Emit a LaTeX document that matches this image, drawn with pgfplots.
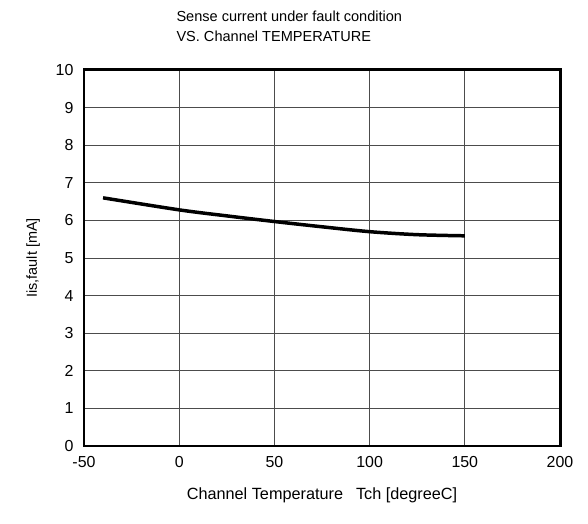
\documentclass[border=0pt]{standalone}
\usepackage{pgfplots}
\pgfplotsset{compat=1.18}
\usepackage{fontspec}
\setmainfont{Liberation Sans}
\begin{document}
\begin{tikzpicture}[x=1bp,y=1bp]
\useasboundingbox (-84,-78) rectangle (504,446);
\begin{axis}[
  at={(0,0)}, anchor=south west,
  scale only axis, width=476bp, height=376bp,
  xmin=-50, xmax=200, ymin=0, ymax=10,
  xtick={-50,0,50,100,150,200},
  ytick={0,1,2,3,4,5,6,7,8,9,10},
  grid=major,
  major grid style={draw=black!70, line width=0.8pt},
  major tick length=0pt,
  axis line style={line width=3pt},
  tick label style={font=\fontsize{16}{18}\selectfont},
  /pgf/number format/assume math mode=true,
  xticklabel style={yshift=-7bp},
  yticklabel style={xshift=-7bp},
  xlabel={Channel Temperature\hspace{0.8em}Tch [degreeC]},
  ylabel={Iis,fault [mA]},
  xlabel style={font=\fontsize{16.3}{18}\selectfont, at={(axis description cs:0.5,0)}, anchor=center, yshift=-49bp},
  ylabel style={font=\fontsize{14.5}{16}\selectfont, yshift=9bp},
]
\addplot[black, line width=3.5pt, smooth, tension=0.5] coordinates {
(-40,6.60) (0,6.28) (25,6.12) (50,5.97) (75,5.83) (100,5.70) (125,5.62) (150,5.59)
};
\end{axis}
\node[anchor=west, align=left, font=\fontsize{14.6}{20}\selectfont] at (89,420) {Sense current under fault condition\\VS. Channel TEMPERATURE};
\end{tikzpicture}
\end{document}
